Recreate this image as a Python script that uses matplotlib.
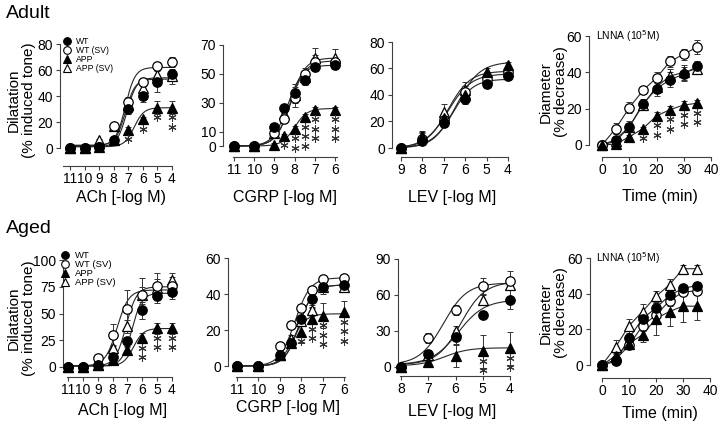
import numpy as np
import matplotlib
matplotlib.use('Agg')
import matplotlib.pyplot as plt
import matplotlib.transforms as mtransforms
from matplotlib.lines import Line2D

plt.rcParams['font.family'] = ['Liberation Sans', 'DejaVu Sans']

W, H = 720, 423

# series order: WT, WT (SV), APP, APP (SV)
groups = ['WT', 'WT (SV)', 'APP', 'APP (SV)']
markers = ['o', 'o', '^', '^']
faces = ['black', 'white', 'black', 'white']

# ---- Adult ACh
ach_ad_x = [11, 10, 9, 8, 7, 6, 5, 4]
ach_ad_wt = [0, 0, 0.5, 6, 30, 40, 51, 57]
ach_ad_wt_sv = [0, 0, 1, 17, 35, 51, 63, 66]
ach_ad_app = [0, 0, 1, 6, 14, 22, 31, 31]
ach_ad_app_sv = [0, 0, 6, 17, 33, 46, 56, 55]
ach_ad_err = [[0.5, 0.5, 1, 2, 4, 5, 8, 3], [0.5, 0.5, 1, 2, 4, 3, 3, 4],
              [0.5, 0.5, 1, 1, 2, 2, 5, 5], [0.5, 0.5, 1, 2, 4, 4, 6, 6]]
ach_ad_stars = [0, 0, 0, 0, 1, 1, 1, 2]
ach_ad_fit_bottom = [1, 2, 1, 2]
ach_ad_fit_top = [54, 62, 31, 53]
ach_ad_fit_pec50 = [7.1, 7.2, 6.6, 7.2]
ach_ad_fit_hill = [1.3, 1.3, 1.3, 1.3]

# ---- Adult CGRP
cgrp_ad_x = [11, 10, 9, 8.5, 8, 7.5, 7, 6]
cgrp_ad_wt = [0, 0, 13, 26, 37, 46, 55, 56]
cgrp_ad_wt_sv = [0, 0, 9, 19, 33, 50, 58, 58]
cgrp_ad_app = [0, 0, 1, 7, 12, 20, 25, 25]
cgrp_ad_app_sv = [0, 0, 9, 22, 35, 48, 61, 61]
cgrp_ad_err = [[0.5, 0.5, 2, 3, 4, 4, 3, 2], [0.5, 0.5, 2, 3, 3, 4, 5, 3],
               [0.5, 0.5, 1, 1, 2, 2, 2, 2], [0.5, 0.5, 2, 4, 8, 5, 7, 6]]
cgrp_ad_stars = [0, 0, 0, 1, 2, 3, 3, 3]
cgrp_ad_fit_bottom = [0, 0, 0, 0]
cgrp_ad_fit_top = [56, 59, 26, 61]
cgrp_ad_fit_pec50 = [8.35, 8.2, 8.0, 8.2]
cgrp_ad_fit_hill = [1.2, 1.2, 1.4, 1.2]

# ---- Adult LEV
lev_ad_x = [9, 8, 7, 6, 5, 4]
lev_ad_wt = [0, 5, 19, 37, 48, 54]
lev_ad_wt_sv = [0, 7, 21, 42, 52, 57]
lev_ad_app = [0, 8, 23, 40, 57, 63]
lev_ad_app_sv = [0, 9, 27, 44, 53, 58]
lev_ad_err = [[0, 1, 2, 4, 3, 3], [0, 5, 5, 5, 4, 4],
              [0, 3, 3, 3, 3, 2], [0, 4, 6, 6, 4, 3]]
lev_ad_stars = [0, 0, 0, 0, 0, 0]
lev_ad_fit_bottom = [0, 0, 0, 0]
lev_ad_fit_top = [52, 56, 65, 58]
lev_ad_fit_pec50 = [6.6, 6.8, 6.4, 6.8]
lev_ad_fit_hill = [0.9, 0.8, 0.8, 0.85]

# ---- Adult LNNA (time course)
lnna_ad_x = [0, 5, 10, 15, 20, 25, 30, 35]
lnna_ad_wt = [0, 3, 10, 22.5, 31, 36, 39, 43.5]
lnna_ad_wt_sv = [0, 9, 20.5, 30, 37, 46, 50, 54]
lnna_ad_app = [0, 0.5, 4.5, 9, 16, 19.5, 22, 23]
lnna_ad_app_sv = [0, 2, 10, 22, 32, 38, 40, 42]
lnna_ad_err = [[0, 1, 3, 3, 4, 4, 4, 3], [0, 3, 3, 2, 3, 3, 3, 4],
               [0, 0.5, 1, 1, 2, 2, 2, 2], [0, 1, 2, 3, 3, 4, 4, 3]]
lnna_ad_stars = [0, 0, 0, 1, 2, 2, 2, 2]

# ---- Aged ACh
ach_ag_x = [11, 10, 9, 8, 7, 6, 5, 4]
ach_ag_wt = [0, 0, 2, 9, 24, 53, 66, 70]
ach_ag_wt_sv = [0, 0, 8, 30, 54, 67, 76, 76]
ach_ag_app = [0, 0, 2, 7, 16, 27, 36, 36]
ach_ag_app_sv = [0, 0, 2, 18, 38, 67, 74, 81]
ach_ag_err = [[0.5, 0.5, 1, 3, 4, 8, 6, 6], [0.5, 0.5, 1, 10, 18, 16, 12, 8],
              [0.5, 0.5, 1, 2, 3, 5, 5, 5], [0.5, 0.5, 1, 3, 6, 8, 8, 7]]
ach_ag_stars = [0, 0, 0, 0, 0, 2, 2, 2]
ach_ag_fit_bottom = [1, 1, 1, 1]
ach_ag_fit_top = [69, 72, 36, 75]
ach_ag_fit_pec50 = [6.7, 7.7, 6.6, 7.1]
ach_ag_fit_hill = [1.3, 1.1, 1.3, 1.2]

# ---- Aged CGRP
cgrp_ag_x = [11, 10, 9, 8.5, 8, 7.5, 7, 6]
cgrp_ag_wt = [0, 0, 6, 13, 26, 37, 44, 45]
cgrp_ag_wt_sv = [0, 0, 11, 23, 32, 42, 48.5, 49]
cgrp_ag_app = [0, 0, 6, 13, 19, 26, 28, 30]
cgrp_ag_app_sv = [0, 0, 6, 15, 25, 31, 44, 44]
cgrp_ag_err = [[0.5, 0.5, 1, 2, 4, 4, 4, 4], [0.5, 0.5, 1, 2, 2, 2, 2, 2],
               [0.5, 0.5, 1, 2, 6, 6, 7, 6], [0.5, 0.5, 1, 2, 3, 3, 3, 3]]
cgrp_ag_stars = [0, 0, 0, 0, 1, 2, 3, 3]
cgrp_ag_fit_bottom = [0, 0, 0, 0]
cgrp_ag_fit_top = [45, 49, 29, 45]
cgrp_ag_fit_pec50 = [8.1, 8.3, 8.4, 8.1]
cgrp_ag_fit_hill = [1.3, 1.2, 1.4, 1.3]

# ---- Aged LEV
lev_ag_x = [8, 7, 6, 5, 4]
lev_ag_wt = [0, 11, 25, 43.5, 56]
lev_ag_wt_sv = [0, 24, 47.5, 67.5, 72]
lev_ag_app = [0, 4, 9, 13, 15.5]
lev_ag_app_sv = [0, 10, 30, 56, 68]
lev_ag_err = [[0, 3, 6, 2, 8], [0, 4, 4, 7, 8],
              [0, 1, 9, 14, 14], [0, 2, 4, 4, 4]]
lev_ag_stars = [0, 0, 0, 2, 2]
lev_ag_fit_bottom = [2, 2, 1, 2]
lev_ag_fit_top = [56, 70, 16, 71]
lev_ag_fit_pec50 = [5.9, 6.45, 6.4, 5.8]
lev_ag_fit_hill = [0.9, 1.0, 1.0, 1.0]

# ---- Aged LNNA
lnna_ag_x = [0, 5, 10, 15, 20, 25, 30, 35]
lnna_ag_wt = [0, 2, 15, 26, 32, 39, 43, 44.5]
lnna_ag_wt_sv = [0, 3, 11, 22, 28, 36, 41, 41.5]
lnna_ag_app = [0, 5, 12, 17, 26, 30, 33, 33]
lnna_ag_app_sv = [0, 10, 22, 30, 38.5, 45, 54, 54]
lnna_ag_err = [[0, 1, 2, 3, 3, 3, 2, 2], [0, 1, 2, 3, 3, 3, 2, 2],
               [0, 2, 3, 4, 9, 8, 9, 8], [0, 4, 4, 4, 3, 3, 2, 2]]
lnna_ag_stars = [0, 0, 0, 0, 0, 0, 0, 0]

fig = plt.figure(figsize=(W / 100, H / 100), dpi=100)


def panel(xcal, ycal, box):
    # xcal/ycal: ((px0, px1), (v0, v1)); box: (left, right, top, bottom) in px
    (xp0, xp1), (xv0, xv1) = xcal
    (yp0, yp1), (yv0, yv1) = ycal
    bx = (xp1 - xp0) / (xv1 - xv0)
    by = (yp1 - yp0) / (yv1 - yv0)
    left, right, top, bottom = box
    ax = fig.add_axes([left / W, 1 - bottom / H, (right - left) / W, (bottom - top) / H])
    ax.set_xlim(xv0 + (left - xp0) / bx, xv0 + (right - xp0) / bx)
    ax.set_ylim(yv0 + (bottom - yp0) / by, yv0 + (top - yp0) / by)
    for s in ['top', 'right']:
        ax.spines[s].set_visible(False)
    for s in ['left', 'bottom']:
        ax.spines[s].set_linewidth(0.8)
        ax.spines[s].set_color('0.25')
    ax.tick_params(axis='both', labelsize=10, width=0.8, color='0.25', length=3)
    ax.tick_params(axis='x', pad=1.5)
    ax.tick_params(axis='y', pad=2)
    ax.patch.set_visible(False)
    return ax


def draw(ax, x, series, errs, stars, fits=None, order=(3, 1, 2, 0)):
    for i in order:
        y = series[i]
        if fits is not None:
            bottom, top, pec50, hill = (f[i] for f in fits)
            xs = np.linspace(x[0], x[-1], 200)
            ax.plot(xs, bottom + (top - bottom) / (1 + 10 ** ((xs - pec50) * hill)),
                    color='0.15', lw=0.8, zorder=2)
        else:
            ax.plot(x, y, color='0.15', lw=0.8, zorder=2)
        ax.errorbar(x, y, yerr=errs[i], fmt='none', ecolor='0.2', elinewidth=0.7,
                    capsize=2.5, capthick=0.7, zorder=3, clip_on=False)
        ax.plot(x, y, ls='none', marker=markers[i], mfc=faces[i], mec='black',
                mew=0.9, ms=6.8, zorder=4, clip_on=False)
    app = series[2]
    for xi, yi, n in zip(x, app, stars):
        for k in range(n):
            tr = mtransforms.offset_copy(ax.transData, fig=fig, y=-9.5 * (k + 1), units='dots')
            ax.plot([xi], [yi], ls='none', marker=(6, 2, 0), ms=5.8, mew=0.75,
                    color='0.2', transform=tr, zorder=5, clip_on=False)


def legend(ax, x, y, size):
    handles = [Line2D([], [], ls='none', marker=m, mfc=f, mec='black', mew=0.8, ms=5.5)
               for m, f in zip(markers, faces)]
    ax.legend(handles, groups, loc='upper left', bbox_to_anchor=(x / W, 1 - y / H),
              bbox_transform=fig.transFigure, frameon=False, fontsize=size,
              handlelength=0.9, handletextpad=0.6, labelspacing=0.0,
              borderpad=0, borderaxespad=0)


def ftext(x, y, s, **kw):
    fig.text(x / W, 1 - y / H, s, **kw)


# Adult ACh
ax = panel(((70, 172), (11, 4)), ((148, 44), (0, 80)), (60, 180, 30, 166))
draw(ax, ach_ad_x, [ach_ad_wt, ach_ad_wt_sv, ach_ad_app, ach_ad_app_sv], ach_ad_err,
     ach_ad_stars, [ach_ad_fit_bottom, ach_ad_fit_top, ach_ad_fit_pec50, ach_ad_fit_hill])
ax.set_yticks([0, 20, 40, 60, 80])
ax.set_xticks(ach_ad_x)
ax.spines['left'].set_bounds(0, 80)
ax.spines['bottom'].set_bounds(11.5, 4)
legend(ax, 63, 37, 6.2)

# Adult CGRP
ax = panel(((234, 335), (11, 6)), ((146, 45), (0, 70)), (223, 345, 30, 157))
draw(ax, cgrp_ad_x, [cgrp_ad_wt, cgrp_ad_wt_sv, cgrp_ad_app, cgrp_ad_app_sv], cgrp_ad_err,
     cgrp_ad_stars, [cgrp_ad_fit_bottom, cgrp_ad_fit_top, cgrp_ad_fit_pec50, cgrp_ad_fit_hill])
ax.set_yticks([0, 10, 30, 50, 70])
ax.set_xticks([11, 10, 9, 8, 7, 6])
ax.spines['left'].set_bounds(0, 70)
ax.spines['bottom'].set_bounds(11.05, 5.9)

# Adult LEV
ax = panel(((401, 508), (9, 4)), ((148, 42), (0, 80)), (392, 515, 30, 157))
draw(ax, lev_ad_x, [lev_ad_wt, lev_ad_wt_sv, lev_ad_app, lev_ad_app_sv], lev_ad_err,
     lev_ad_stars, [lev_ad_fit_bottom, lev_ad_fit_top, lev_ad_fit_pec50, lev_ad_fit_hill])
ax.set_yticks([0, 20, 40, 60, 80])
ax.set_xticks(lev_ad_x)
ax.spines['left'].set_bounds(0, 80)
ax.spines['bottom'].set_bounds(9, 4)

# Adult LNNA
ax = panel(((602, 711), (0, 40)), ((145, 36), (0, 60)), (589, 716, 25, 157))
draw(ax, lnna_ad_x, [lnna_ad_wt, lnna_ad_wt_sv, lnna_ad_app, lnna_ad_app_sv], lnna_ad_err,
     lnna_ad_stars, order=(3, 0, 1, 2))
ax.set_yticks([0, 20, 40, 60])
ax.set_xticks([0, 10, 20, 30, 40])
ax.spines['left'].set_bounds(0, 60)
ax.spines['bottom'].set_bounds(0, 40)
ftext(596, 36, 'LNNA (10$^5$M)', fontsize=7.5, va='center')

# Aged ACh
ax = panel(((68, 172), (11, 4)), ((367, 260), (0, 100)), (63, 180, 250, 377))
draw(ax, ach_ag_x, [ach_ag_wt, ach_ag_wt_sv, ach_ag_app, ach_ag_app_sv], ach_ag_err,
     ach_ag_stars, [ach_ag_fit_bottom, ach_ag_fit_top, ach_ag_fit_pec50, ach_ag_fit_hill])
ax.set_yticks([0, 25, 50, 75, 100])
ax.set_xticks(ach_ag_x)
ax.spines['left'].set_bounds(0, 100)
ax.spines['bottom'].set_bounds(11.1, 4)
legend(ax, 61, 251, 6.8)

# Aged CGRP
ax = panel(((237, 344), (11, 6)), ((366, 258), (0, 60)), (228, 352, 250, 377))
draw(ax, cgrp_ag_x, [cgrp_ag_wt, cgrp_ag_wt_sv, cgrp_ag_app, cgrp_ag_app_sv], cgrp_ag_err,
     cgrp_ag_stars, [cgrp_ag_fit_bottom, cgrp_ag_fit_top, cgrp_ag_fit_pec50, cgrp_ag_fit_hill])
ax.set_yticks([0, 20, 40, 60])
ax.set_xticks([11, 10, 9, 8, 7, 6])
ax.spines['left'].set_bounds(0, 60)
ax.spines['bottom'].set_bounds(11.05, 5.95)

# Aged LEV
ax = panel(((401, 510), (8, 4)), ((367, 259), (0, 90)), (398, 518, 250, 376))
draw(ax, lev_ag_x, [lev_ag_wt, lev_ag_wt_sv, lev_ag_app, lev_ag_app_sv], lev_ag_err,
     lev_ag_stars, [lev_ag_fit_bottom, lev_ag_fit_top, lev_ag_fit_pec50, lev_ag_fit_hill])
ax.set_yticks([0, 30, 60, 90])
ax.set_xticks(lev_ag_x)
ax.spines['left'].set_bounds(0, 90)
ax.spines['bottom'].set_bounds(8.05, 4)

# Aged LNNA
ax = panel(((602, 710), (0, 40)), ((365, 258), (0, 60)), (590, 716, 250, 378))
draw(ax, lnna_ag_x, [lnna_ag_wt, lnna_ag_wt_sv, lnna_ag_app, lnna_ag_app_sv], lnna_ag_err,
     lnna_ag_stars, order=(1, 3, 2, 0))
ax.set_yticks([0, 20, 40, 60])
ax.set_xticks([0, 10, 20, 30, 40])
ax.spines['left'].set_bounds(0, 60)
ax.spines['bottom'].set_bounds(0, 40)
ftext(596, 258, 'LNNA (10$^5$M)', fontsize=7.5, va='center')

# titles and axis labels
ftext(6, 13, 'Adult', fontsize=14, va='center')
ftext(6, 228, 'Aged', fontsize=14, va='center')

ylab = dict(fontsize=11, rotation=90, ha='center', va='center', multialignment='center',
            linespacing=1.1)
ftext(21, 100, 'Dilatation\n(% induced tone)', **ylab)
ftext(21, 318, 'Dilatation\n(% induced tone)', **ylab)
ftext(553, 92, 'Diameter\n(% decrease)', **ylab)
ftext(553, 313, 'Diameter\n(% decrease)', **ylab)

xlab = dict(fontsize=11.5, ha='center', va='center')
ftext(121, 197, 'ACh [-log M)', **xlab)
ftext(285, 197, 'CGRP [-log M]', **xlab)
ftext(452, 197, 'LEV [-log M]', **xlab)
ftext(660, 196, 'Time (min)', **xlab)
ftext(123, 410, 'ACh [-log M]', **xlab)
ftext(288, 407, 'CGRP [-log M]', **xlab)
ftext(452, 411, 'LEV [-log M]', **xlab)
ftext(660, 413, 'Time (min)', **xlab)

fig.savefig('out.png', dpi=100)
